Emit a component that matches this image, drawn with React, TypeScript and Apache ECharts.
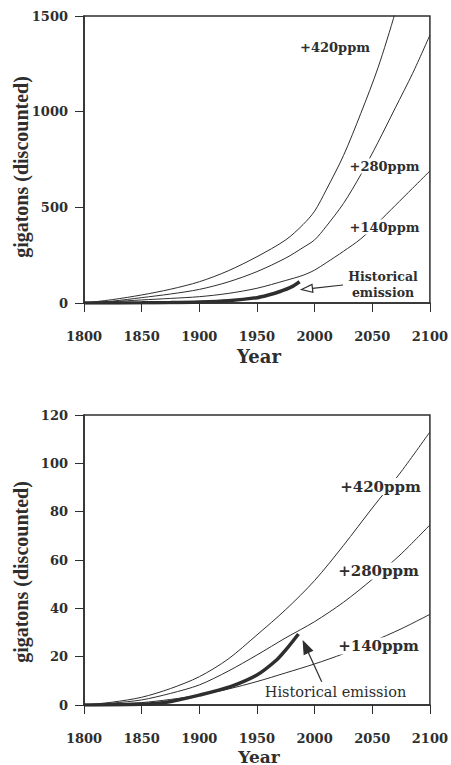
import React, { useEffect, useRef } from "react";
import * as echarts from "echarts";

// ---- data ----
const xTicks = [1800, 1850, 1900, 1950, 2000, 2050, 2100];

// upper panel
const yearsTop = [1800, 1825, 1850, 1875, 1900, 1925, 1950, 1975, 1990, 2000, 2010, 2025, 2040, 2055, 2070, 2085, 2100];
const top420 = [0, 18, 42, 72, 111, 168, 242, 330, 410, 480, 590, 770, 990, 1230, 1520, 1850, 2200];
const top280 = [0, 10, 28, 47, 71, 110, 164, 235, 290, 330, 400, 520, 670, 840, 1020, 1200, 1400];
const top140 = [0, 7, 16, 24, 33, 50, 77, 118, 145, 172, 210, 270, 335, 420, 510, 600, 690];
const histYearsTop = [1800, 1850, 1875, 1900, 1925, 1950, 1960, 1970, 1980, 1987];
const histTop = [0, 1, 2, 5, 12, 28, 42, 60, 84, 111];

// lower panel
const yearsBottom = [1800, 1825, 1850, 1875, 1900, 1925, 1950, 1975, 2000, 2025, 2050, 2075, 2100];
const bottom420 = [0, 1.2, 3.2, 6.8, 11.7, 19, 29, 39.5, 51.5, 66, 81.5, 96.5, 113];
const bottom280 = [0, 0.8, 2.1, 4.8, 8.3, 14, 20.7, 27.8, 34.5, 42.5, 52, 62.5, 74.5];
const bottom140 = [0, 0.4, 1, 2.3, 4.1, 6.6, 9.7, 13.3, 17, 21.2, 26.2, 31.5, 37.5];
const histYearsBottom = [1800, 1850, 1870, 1900, 1927, 1950, 1967, 1975, 1986];
const histBottom = [0, 0.3, 1, 4.1, 7.6, 12.4, 18.6, 22.8, 29.4];

const seriesLabels = ["+420ppm", "+280ppm", "+140ppm"];
const histLabel = "Historical emission";
const yTitle = "gigatons (discounted)";
const xTitle = "Year";

const INK = "#2e2e2e";

function pairs(xs: number[], ys: number[]) {
  return xs.map((x, i) => [x, ys[i]]);
}

function arrow(tx: number, ty: number, hx: number, hy: number, len: number, hw: number, fill: string, z: number) {
  const dx = hx - tx, dy = hy - ty;
  const L = Math.hypot(dx, dy);
  const ux = dx / L, uy = dy / L;
  const bx = hx - ux * len, by = hy - uy * len;
  const nx = -uy, ny = ux;
  return [
    { type: "line", z, shape: { x1: tx, y1: ty, x2: bx, y2: by }, style: { stroke: INK, lineWidth: 1.2 } },
    {
      type: "polygon", z,
      shape: { points: [[hx, hy], [bx + nx * hw, by + ny * hw], [bx - nx * hw, by - ny * hw]] },
      style: { fill, stroke: INK, lineWidth: 1.2 },
    },
  ];
}

function label(text: string, x: number, y: number, font: string) {
  return {
    type: "text", z: 100, x, y,
    style: {
      text, font, fill: INK, align: "center", verticalAlign: "middle",
      backgroundColor: "#fff", padding: [1, 2],
    },
  };
}

export default function App() {
  const ref = useRef<HTMLDivElement>(null);
  useEffect(() => {
    document.body.style.margin = "0";
    const chart = echarts.init(ref.current!, null, { renderer: "svg" });
    const tickFont = { fontFamily: "DejaVu Serif", fontWeight: "bold", fontSize: 13, color: INK };
    const mkX = (gridIndex: number) => ({
      type: "value", gridIndex, min: 1800, max: 2100, interval: 50,
      axisLine: { show: true, lineStyle: { color: INK, width: 1.5 } },
      axisTick: { show: true, inside: false, length: 9, lineStyle: { color: INK } },
      axisLabel: { ...tickFont, margin: 27, formatter: (v: number) => String(v) },
      splitLine: { show: false },
    });
    const mkY = (gridIndex: number, max: number, interval: number) => ({
      type: "value", gridIndex, min: 0, max, interval,
      axisLine: { show: true, lineStyle: { color: INK, width: 1.5 } },
      axisTick: { show: true, inside: false, length: 9, lineStyle: { color: INK } },
      axisLabel: { ...tickFont, margin: 16, formatter: (v: number) => String(v) },
      splitLine: { show: false },
    });
    const thin = (name: string, idx: number, xs: number[], ys: number[]) => ({
      name, type: "line", xAxisIndex: idx, yAxisIndex: idx, data: pairs(xs, ys),
      smooth: 0.3, showSymbol: false, symbol: "none", clip: true,
      lineStyle: { color: INK, width: 1 },
    });
    const thick = (idx: number, xs: number[], ys: number[]) => ({
      name: histLabel, type: "line", xAxisIndex: idx, yAxisIndex: idx, data: pairs(xs, ys),
      smooth: 0.3, showSymbol: false, symbol: "none", clip: true,
      lineStyle: { color: INK, width: 3.5 },
    });

    const fTop = 'bold 13px "DejaVu Serif"';
    const fBot = 'bold 15px "DejaVu Serif"';
    chart.setOption({
      animation: false,
      backgroundColor: "#fff",
      grid: [
        { left: 84, top: 16, width: 346, height: 287, show: true, borderColor: INK, borderWidth: 1.5 },
        { left: 84, top: 415, width: 346, height: 290, show: true, borderColor: INK, borderWidth: 1.5 },
      ],
      xAxis: [mkX(0), mkX(1)],
      yAxis: [mkY(0, 1500, 500), mkY(1, 120, 20)],
      series: [
        thin(seriesLabels[0], 0, yearsTop, top420),
        thin(seriesLabels[1], 0, yearsTop, top280),
        thin(seriesLabels[2], 0, yearsTop, top140),
        thick(0, histYearsTop, histTop),
        thin(seriesLabels[0], 1, yearsBottom, bottom420),
        thin(seriesLabels[1], 1, yearsBottom, bottom280),
        thin(seriesLabels[2], 1, yearsBottom, bottom140),
        thick(1, histYearsBottom, histBottom),
      ],
      graphic: [
        // axis titles
        { type: "text", z: 100, x: 21, y: 167, rotation: Math.PI / 2,
          style: { text: yTitle, font: 'bold 20px "Liberation Serif"', fill: INK, align: "center", verticalAlign: "middle" } },
        { type: "text", z: 100, x: 21, y: 572, rotation: Math.PI / 2,
          style: { text: yTitle, font: 'bold 20px "Liberation Serif"', fill: INK, align: "center", verticalAlign: "middle" } },
        { type: "text", z: 100, x: 259, y: 356,
          style: { text: xTitle, font: 'bold 18px "DejaVu Serif"', fill: INK, align: "center", verticalAlign: "middle" } },
        { type: "text", z: 100, x: 259, y: 756.5,
          style: { text: xTitle, font: 'bold 17px "DejaVu Serif"', lineHeight: 17, fill: INK, align: "center", verticalAlign: "middle" } },
        // upper labels
        label(seriesLabels[0], 335, 47.5, fTop),
        label(seriesLabels[1], 384.5, 166, fTop),
        label(seriesLabels[2], 384.5, 227, fTop),
        { type: "text", z: 100, x: 383, y: 284,
          style: { text: "Historical\nemission", font: 'bold 12.5px "DejaVu Serif"', fill: INK, align: "center", verticalAlign: "middle", lineHeight: 16 } },
        ...arrow(343, 285, 301.5, 289.5, 11, 4, "#fff", 100),
        // lower labels
        label(seriesLabels[0], 380.5, 486.5, fBot),
        label(seriesLabels[1], 378.5, 571, fBot),
        label(seriesLabels[2], 378.5, 646, fBot),
        { type: "text", z: 100, x: 335.5, y: 692,
          style: { text: histLabel, font: '14.5px "DejaVu Serif"', fill: INK, align: "center", verticalAlign: "middle" } },
        ...arrow(321.7, 681.7, 303.3, 641.5, 12, 4.5, INK, 100),
      ],
    });
    return () => chart.dispose();
  }, []);
  return <div ref={ref} style={{ position: "fixed", left: 0, top: 0, width: 451, height: 765 }} />;
}
